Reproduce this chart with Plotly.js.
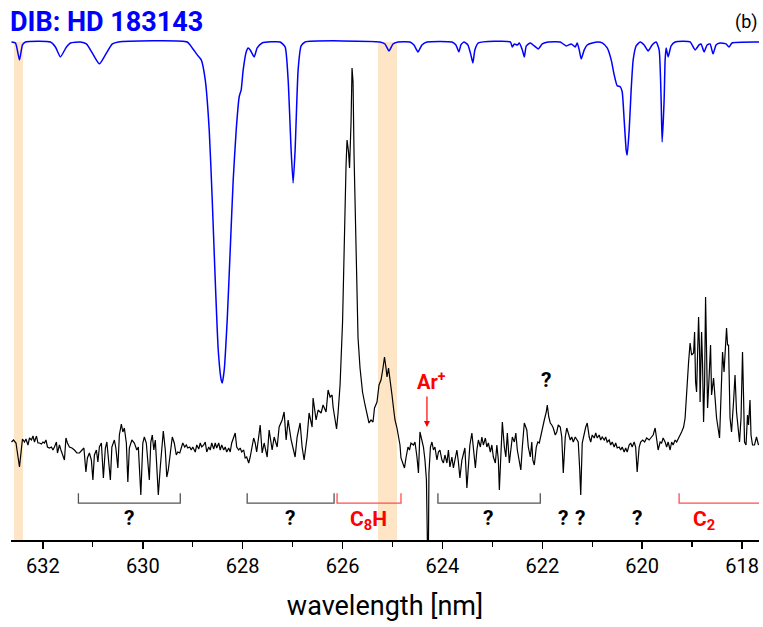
<!DOCTYPE html>
<html>
<head>
<meta charset="utf-8">
<script src="https://cdn.plot.ly/plotly-3.0.1.min.js"></script>
<style>html,body{margin:0;padding:0;background:#fff;}#chart{width:763px;height:627px;}</style>
</head>
<body>
<div id="chart"></div>
<script>
// DIB spectrum HD 183143 (normalised flux)
const dibWl = [
632.63,632.55,632.47,632.41,632.35,631.85,631.75,631.65,631.53,631.45,
631.25,631.13,630.99,630.87,630.75,630.61,630.49,629.11,629.01,628.91,
628.83,628.75,628.67,628.61,628.55,628.49,628.43,628.41,628.37,628.31,
628.25,628.19,628.13,628.07,628.03,627.99,627.93,627.89,627.85,627.77,
627.71,627.61,627.25,627.15,627.09,627.03,626.99,626.95,626.89,626.83,
626.75,625.25,625.15,625.07,624.99,624.89,624.65,624.57,624.49,624.41,
624.31,623.81,623.73,623.67,623.63,623.57,623.49,623.43,623.39,623.35,
623.28,622.64,622.60,622.56,622.50,622.46,622.40,622.36,622.32,622.24,
622.16,622.08,622.00,621.88,621.64,621.52,621.42,621.34,621.30,621.26,
621.22,621.16,621.10,621.00,620.88,620.80,620.70,620.62,620.56,620.50,
620.44,620.40,620.36,620.32,620.30,620.26,620.22,620.18,620.12,620.04,
619.96,619.88,619.80,619.72,619.66,619.62,619.60,619.56,619.54,619.52,
619.48,619.42,619.34,619.04,618.94,618.86,618.82,618.76,618.70,618.64,
618.58,618.52,618.44,618.32,618.26,618.20,617.64];
const dibFlux = [
1.000,0.998,0.964,0.994,1.000,1.000,0.990,0.970,0.990,0.998,
1.000,0.996,0.974,0.956,0.974,0.996,1.000,1.000,0.988,0.974,
0.964,0.924,0.823,0.683,0.522,0.382,0.321,0.315,0.341,0.442,
0.582,0.723,0.823,0.890,0.904,0.944,0.980,0.988,0.984,0.970,
0.988,0.998,1.000,0.990,0.924,0.783,0.717,0.783,0.944,0.992,
1.000,1.000,0.996,0.982,0.996,1.000,1.000,0.994,0.980,0.994,
1.000,1.000,0.994,0.980,0.994,1.000,0.994,0.974,0.958,0.984,
0.998,1.000,0.990,0.996,0.994,0.998,0.984,0.970,0.992,0.998,
0.992,0.986,0.996,1.000,1.000,0.992,0.996,0.990,0.998,0.984,
0.966,0.984,0.994,0.998,1.000,0.998,0.988,0.964,0.934,0.912,
0.910,0.900,0.843,0.783,0.773,0.823,0.904,0.964,0.992,1.000,
0.994,0.982,0.994,1.000,0.984,0.884,0.799,0.884,0.964,0.988,
0.970,0.992,1.000,1.000,0.984,0.994,0.996,0.980,0.994,0.996,
0.976,0.994,0.998,0.996,0.990,0.998,1.000];

// laboratory emission spectrum (arbitrary units)
const emWl = [
632.63,632.59,632.54,632.50,632.47,632.43,632.41,632.37,632.34,632.30,
632.27,632.23,632.20,632.17,632.13,632.10,632.07,632.03,632.00,631.97,
631.94,631.91,631.87,631.83,631.80,631.77,631.73,631.71,631.67,631.64,
631.61,631.57,631.54,631.51,631.47,631.42,631.37,631.32,631.27,631.22,
631.18,631.14,631.11,631.07,631.03,631.00,630.97,630.93,630.90,630.87,
630.83,630.79,630.75,630.72,630.69,630.65,630.62,630.57,630.54,630.50,
630.47,630.43,630.40,630.37,630.33,630.30,630.27,630.22,630.17,630.12,
630.09,630.04,630.00,629.97,629.93,629.91,629.87,629.84,629.81,629.78,
629.75,629.72,629.69,629.65,629.62,629.59,629.55,629.52,629.49,629.45,
629.41,629.37,629.33,629.30,629.26,629.23,629.20,629.16,629.13,629.10,
629.06,629.03,629.00,628.95,628.92,628.88,628.85,628.82,628.78,628.75,
628.72,628.68,628.65,628.62,628.58,628.55,628.52,628.48,628.45,628.42,
628.38,628.35,628.32,628.28,628.25,628.22,628.18,628.15,628.12,628.08,
628.05,628.02,627.98,627.95,627.92,627.88,627.85,627.82,627.78,627.75,
627.72,627.68,627.65,627.61,627.57,627.51,627.47,627.41,627.37,627.31,
627.27,627.21,627.17,627.13,627.09,627.03,626.99,626.95,626.91,626.85,
626.81,626.77,626.71,626.67,626.61,626.59,626.53,626.49,626.43,626.39,
626.33,626.29,626.25,626.21,626.19,626.12,626.09,626.05,626.00,625.96,
625.93,625.91,625.88,625.86,625.83,625.81,625.79,625.77,625.73,625.69,
625.65,625.60,625.55,625.49,625.47,625.43,625.39,625.36,625.31,625.27,
625.23,625.19,625.16,625.13,625.11,625.08,625.05,625.01,624.97,624.95,
624.91,624.88,624.85,624.83,624.79,624.76,624.73,624.69,624.66,624.63,
624.58,624.55,624.51,624.48,624.45,624.41,624.38,624.35,624.32,624.30,
624.28,624.27,624.24,624.21,624.18,624.15,624.11,624.08,624.05,624.01,
623.98,623.95,623.91,623.88,623.85,623.81,623.78,623.75,623.71,623.68,
623.65,623.61,623.58,623.55,623.51,623.48,623.45,623.41,623.38,623.34,
623.31,623.28,623.24,623.21,623.18,623.14,623.11,623.08,623.04,623.01,
622.98,622.94,622.91,622.88,622.86,622.82,622.80,622.76,622.73,622.70,
622.66,622.63,622.60,622.56,622.53,622.50,622.46,622.43,622.40,622.36,
622.31,622.28,622.24,622.21,622.19,622.16,622.12,622.09,622.06,622.02,
621.99,621.96,621.92,621.90,621.87,621.84,621.81,621.78,621.74,621.71,
621.68,621.64,621.61,621.58,621.54,621.51,621.48,621.44,621.41,621.38,
621.34,621.31,621.28,621.25,621.23,621.20,621.16,621.13,621.10,621.06,
621.03,621.00,620.96,620.93,620.90,620.86,620.83,620.80,620.76,620.73,
620.70,620.66,620.63,620.60,620.56,620.53,620.50,620.46,620.43,620.40,
620.36,620.33,620.30,620.26,620.23,620.20,620.16,620.13,620.10,620.06,
620.03,619.99,619.95,619.91,619.86,619.81,619.78,619.74,619.71,619.68,
619.64,619.61,619.58,619.54,619.51,619.48,619.44,619.41,619.38,619.34,
619.31,619.27,619.24,619.21,619.17,619.14,619.11,619.07,619.04,619.01,
618.97,618.95,618.93,618.91,618.87,618.85,618.84,618.81,618.79,618.77,
618.75,618.73,618.71,618.69,618.66,618.63,618.61,618.57,618.54,618.51,
618.45,618.43,618.41,618.39,618.36,618.34,618.31,618.29,618.27,618.24,
618.21,618.17,618.14,618.11,618.08,618.05,618.02,617.99,617.97,617.95,
617.92,617.89,617.87,617.84,617.82,617.79,617.75,617.71,617.67];
const emInt = [
0.98,1.00,0.97,0.85,0.73,0.92,1.01,0.98,1.01,0.95,
1.02,1.00,1.04,0.98,1.04,0.97,0.97,0.96,0.98,0.97,
1.00,0.93,0.92,0.93,0.90,0.93,0.98,0.87,0.95,0.90,
0.85,0.80,1.02,0.97,0.93,0.92,0.90,0.87,0.87,0.90,
0.92,0.68,0.82,0.87,0.80,0.60,0.85,0.90,0.78,0.93,
0.97,0.62,0.92,0.98,0.80,0.60,0.93,1.00,0.92,0.72,
1.05,1.16,1.08,1.12,0.97,0.58,0.92,1.00,0.97,0.90,
0.93,0.45,0.97,1.03,0.97,0.87,0.60,0.98,1.05,0.90,
1.00,0.73,0.45,0.73,0.97,1.09,0.90,0.63,0.70,0.90,
1.03,0.97,0.85,0.88,0.87,0.92,0.97,0.93,0.95,0.92,
0.93,0.90,0.93,0.88,0.95,0.91,0.97,0.93,0.95,0.98,
0.88,0.93,0.90,0.97,0.91,0.97,0.92,0.97,0.90,0.95,
0.90,0.93,0.88,0.92,0.88,0.97,1.03,1.07,0.93,0.90,
0.92,0.88,0.90,0.82,0.83,0.77,0.83,0.90,1.02,0.97,
0.88,1.03,1.15,0.87,0.97,0.83,1.10,0.90,1.03,0.93,
1.13,1.20,1.28,1.00,1.20,1.00,0.90,0.83,1.03,1.17,
0.93,0.80,1.03,1.27,1.13,1.42,1.20,1.30,1.27,1.35,
1.28,1.50,1.43,1.45,1.33,1.11,1.27,1.55,2.18,3.18,
3.75,4.00,3.88,3.72,4.18,4.72,4.58,3.85,2.85,2.02,
1.72,1.48,1.35,1.22,1.17,1.20,1.18,1.32,1.38,1.55,
1.60,1.72,1.83,1.72,1.63,1.72,1.62,1.45,1.28,1.20,
1.12,1.02,0.95,0.82,0.77,0.72,0.82,0.93,0.90,0.97,
0.95,0.98,0.83,0.67,1.08,0.98,0.93,0.80,0.60,-0.05,
-0.05,0.67,0.93,0.98,0.90,0.93,0.80,0.88,0.90,0.80,
0.77,0.85,0.77,0.90,0.73,0.83,0.72,0.80,0.90,0.78,
0.62,0.80,0.87,0.92,0.52,0.78,0.95,1.07,0.88,0.72,
0.90,1.00,0.93,1.03,0.95,1.02,0.93,0.97,0.88,0.95,
0.83,0.77,0.95,0.80,0.50,0.93,1.18,0.93,0.83,1.07,
0.77,0.90,1.03,0.98,1.07,0.90,0.80,0.70,0.93,1.17,
1.10,0.93,0.83,0.98,0.80,0.75,0.93,0.98,0.97,1.07,
1.13,1.20,1.28,1.35,1.23,1.17,1.15,1.12,1.05,1.08,
1.15,1.13,1.03,0.67,1.03,1.12,1.07,1.00,1.03,0.98,
1.03,1.00,0.98,0.70,0.45,0.97,1.07,1.13,1.17,1.03,
0.98,1.05,1.02,1.07,1.02,1.05,1.00,1.03,1.00,1.03,
0.98,1.00,0.95,0.98,0.93,0.97,0.92,0.93,0.90,0.93,
0.88,0.92,0.88,0.95,0.97,0.93,0.98,0.93,0.68,0.93,
0.98,1.00,0.98,1.02,1.00,1.03,1.05,1.12,1.02,0.90,
0.98,0.97,1.02,0.98,0.93,0.98,0.90,0.98,0.95,1.00,
0.98,1.03,1.05,1.08,1.13,1.22,1.52,1.78,1.97,1.85,
1.87,2.08,1.58,1.48,2.23,1.88,1.38,2.08,1.75,1.18,
1.55,2.43,1.88,1.32,1.62,1.95,1.45,1.62,1.42,1.22,
1.02,1.28,1.62,1.88,1.68,1.88,2.12,1.95,1.95,1.22,
1.08,1.38,1.65,1.28,1.12,0.98,1.22,1.88,1.45,0.98,
0.95,1.25,1.15,1.40,1.05,0.95,0.95,1.03,0.95];

// highlighted DIB bands (nm)
const bandStart = [632.58, 625.29];
const bandEnd   = [632.40, 624.91];

// assignment brackets (nm)
const bracketStart = [631.29, 627.91, 626.11, 624.09, 619.26];
const bracketEnd   = [629.25, 626.17, 624.83, 622.04, 617.66];
const bracketIsRed = [false, false, true, false, true];
const bracketLabel = ["?", "?", "C<sub>8</sub>H", "?", "C<sub>2</sub>"];
const bracketLabelWl = [630.27, 627.05, 625.49, 623.08, 618.76];

// single unidentified features (nm)
const singleQWl = [621.58, 621.24, 620.10];
const peakQWl = 621.92;
// Ar+ line
const arWl = 624.31;
const arInt = 1.13;

const xRange = [632.64, 617.66];
const RED = '#ff0000';
const BRK_RED = '#ff4d4d';
const BRK_GRAY = '#555555';
const FONT = 'Roboto, Arial, sans-serif';

const traces = [
  {x: dibWl, y: dibFlux, type: 'scatter', mode: 'lines', yaxis: 'y',
   line: {color: '#0000ff', width: 1.5, shape: 'spline', smoothing: 0.5}, hoverinfo: 'skip'},
  {x: emWl, y: emInt, type: 'scatter', mode: 'lines', yaxis: 'y2',
   line: {color: '#000000', width: 1.2}, hoverinfo: 'skip'}
];

const shapes = [];
for (let i = 0; i < bandStart.length; i++) {
  shapes.push({type: 'rect', xref: 'x', yref: 'y', x0: bandStart[i], x1: bandEnd[i], y0: 0, y1: 1.0,
    fillcolor: 'rgba(252,222,184,0.8)', line: {width: 0}, layer: 'below'});
}
const yTop = 0.094, yBot = 0.074;
for (let i = 0; i < bracketStart.length; i++) {
  const a = bracketStart[i], b = bracketEnd[i];
  const last = (b <= xRange[1] + 0.001);
  const p = last ? `M${a},${yTop} L${a},${yBot} L${b},${yBot}`
                 : `M${a},${yTop} L${a},${yBot} L${b},${yBot} L${b},${yTop}`;
  shapes.push({type: 'path', xref: 'x', yref: 'y', path: p,
    line: {color: bracketIsRed[i] ? BRK_RED : BRK_GRAY, width: 1.3}});
}

const annotations = [];
for (let i = 0; i < bracketLabel.length; i++) {
  const red = bracketIsRed[i];
  annotations.push({xref: 'x', yref: 'y', x: bracketLabelWl[i], y: red ? 0.040 : 0.044, yanchor: 'middle',
    text: '<b>' + bracketLabel[i] + '</b>', showarrow: false,
    font: {family: FONT, size: red ? 21 : 21, color: red ? RED : '#000'}});
}
for (const w of singleQWl) {
  annotations.push({xref: 'x', yref: 'y', x: w, y: 0.044, yanchor: 'middle',
    text: '<b>?</b>', showarrow: false, font: {family: FONT, size: 21, color: '#000'}});
}
annotations.push({xref: 'x', yref: 'y', x: peakQWl, y: 0.321, yanchor: 'middle',
  text: '<b>?</b>', showarrow: false, font: {family: FONT, size: 21, color: '#000'}});
annotations.push({xref: 'x', yref: 'y', x: 624.21, y: 0.319, yanchor: 'middle',
  text: '<b>Ar<sup>+</sup></b>', showarrow: false, font: {family: FONT, size: 20, color: RED}});
annotations.push({xref: 'x', yref: 'y2', x: arWl, y: arInt, text: '', showarrow: true,
  ax: 0, ay: -32, arrowhead: 2, arrowsize: 1, arrowwidth: 1.2, arrowcolor: RED, standoff: 0});
annotations.push({xref: 'paper', yref: 'paper', x: 1, y: 1.0197, xanchor: 'right', yanchor: 'middle', xshift: 1,
  text: '(b)', showarrow: false, font: {family: FONT, size: 18, color: '#000'}});

const layout = {
  width: 763, height: 627,
  margin: {l: 11, r: 4, t: 32, b: 87},
  paper_bgcolor: '#ffffff', plot_bgcolor: '#ffffff',
  showlegend: false,
  title: {text: '<b>DIB: HD 183143</b>', x: 10/763, xanchor: 'left', xref: 'container',
    y: 1 - 22/627, yanchor: 'middle', yref: 'container',
    font: {family: FONT, size: 27, color: '#0000ff'}},
  xaxis: {
    range: xRange, showgrid: false, zeroline: false,
    showline: true, linecolor: '#000', linewidth: 1.5, mirror: false,
    ticks: 'outside', ticklen: 7, tickwidth: 1.5, tickcolor: '#000',
    tickmode: 'linear', tick0: 618, dtick: 2,
    minor: {ticks: 'outside', dtick: 1, tick0: 619, ticklen: 5, tickwidth: 1.2, tickcolor: '#000', showgrid: false},
    tickfont: {family: FONT, size: 20, color: '#000'},
    title: {text: 'wavelength [nm]', font: {family: FONT, size: 27, color: '#000'}, standoff: 19}
  },
  yaxis: {range: [0, 1.02], visible: false, fixedrange: true},
  yaxis2: {range: [0, 5.08], visible: false, overlaying: 'y', fixedrange: true},
  shapes: shapes,
  annotations: annotations
};

Plotly.newPlot('chart', traces, layout, {displayModeBar: false, staticPlot: true});
</script>
</body>
</html>
